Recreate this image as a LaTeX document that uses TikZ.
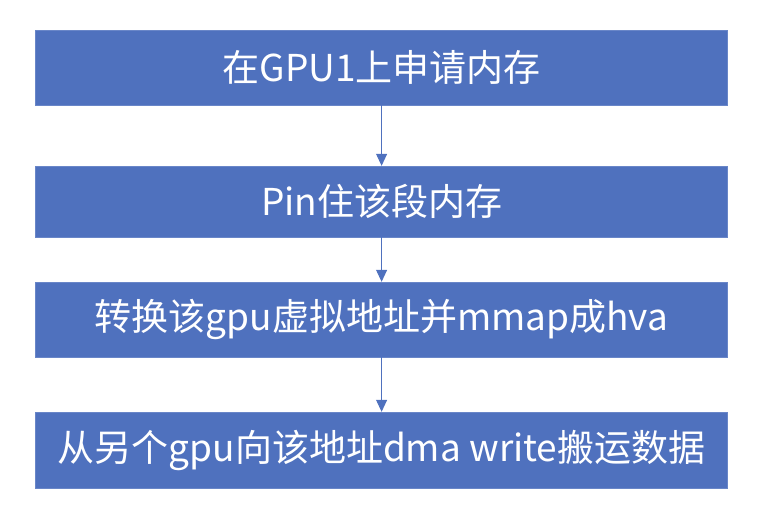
\documentclass[tikz,border=0pt]{standalone}
\usepackage{fontspec}
\newfontfamily\cjk{Noto Sans CJK SC}
\usetikzlibrary{arrows.meta}
\definecolor{boxblue}{HTML}{4F71BE}
\begin{document}
\begin{tikzpicture}[x=1pt,y=-1pt]
\tikzstyle{stepbox}=[draw=boxblue!85!white,fill=boxblue,text=white,minimum width=692pt,font=\cjk\fontsize{37}{42}\selectfont,inner sep=0pt]
\tikzstyle{arrow}=[draw=boxblue,line width=1pt,-{Triangle[length=12pt,width=11pt]}]
\useasboundingbox(0,0)rectangle(771,516);
\node[stepbox,minimum height=75pt](alloc)at(381.6,67.5){在GPU1上申请内存};
\node[stepbox,minimum height=71pt](pin)at(381.6,201.5){Pin住该段内存};
\node[stepbox,minimum height=75pt](mmap)at(381.6,319.5){转换该gpu虚拟地址并mmap成hva};
\node[stepbox,minimum height=76pt](dma)at(381.6,450){从另个gpu向该地址dma write搬运数据};
\path[arrow](alloc)--(pin);
\path[arrow](pin)--(mmap);
\path[arrow](mmap)--(dma);
\end{tikzpicture}
\end{document}
